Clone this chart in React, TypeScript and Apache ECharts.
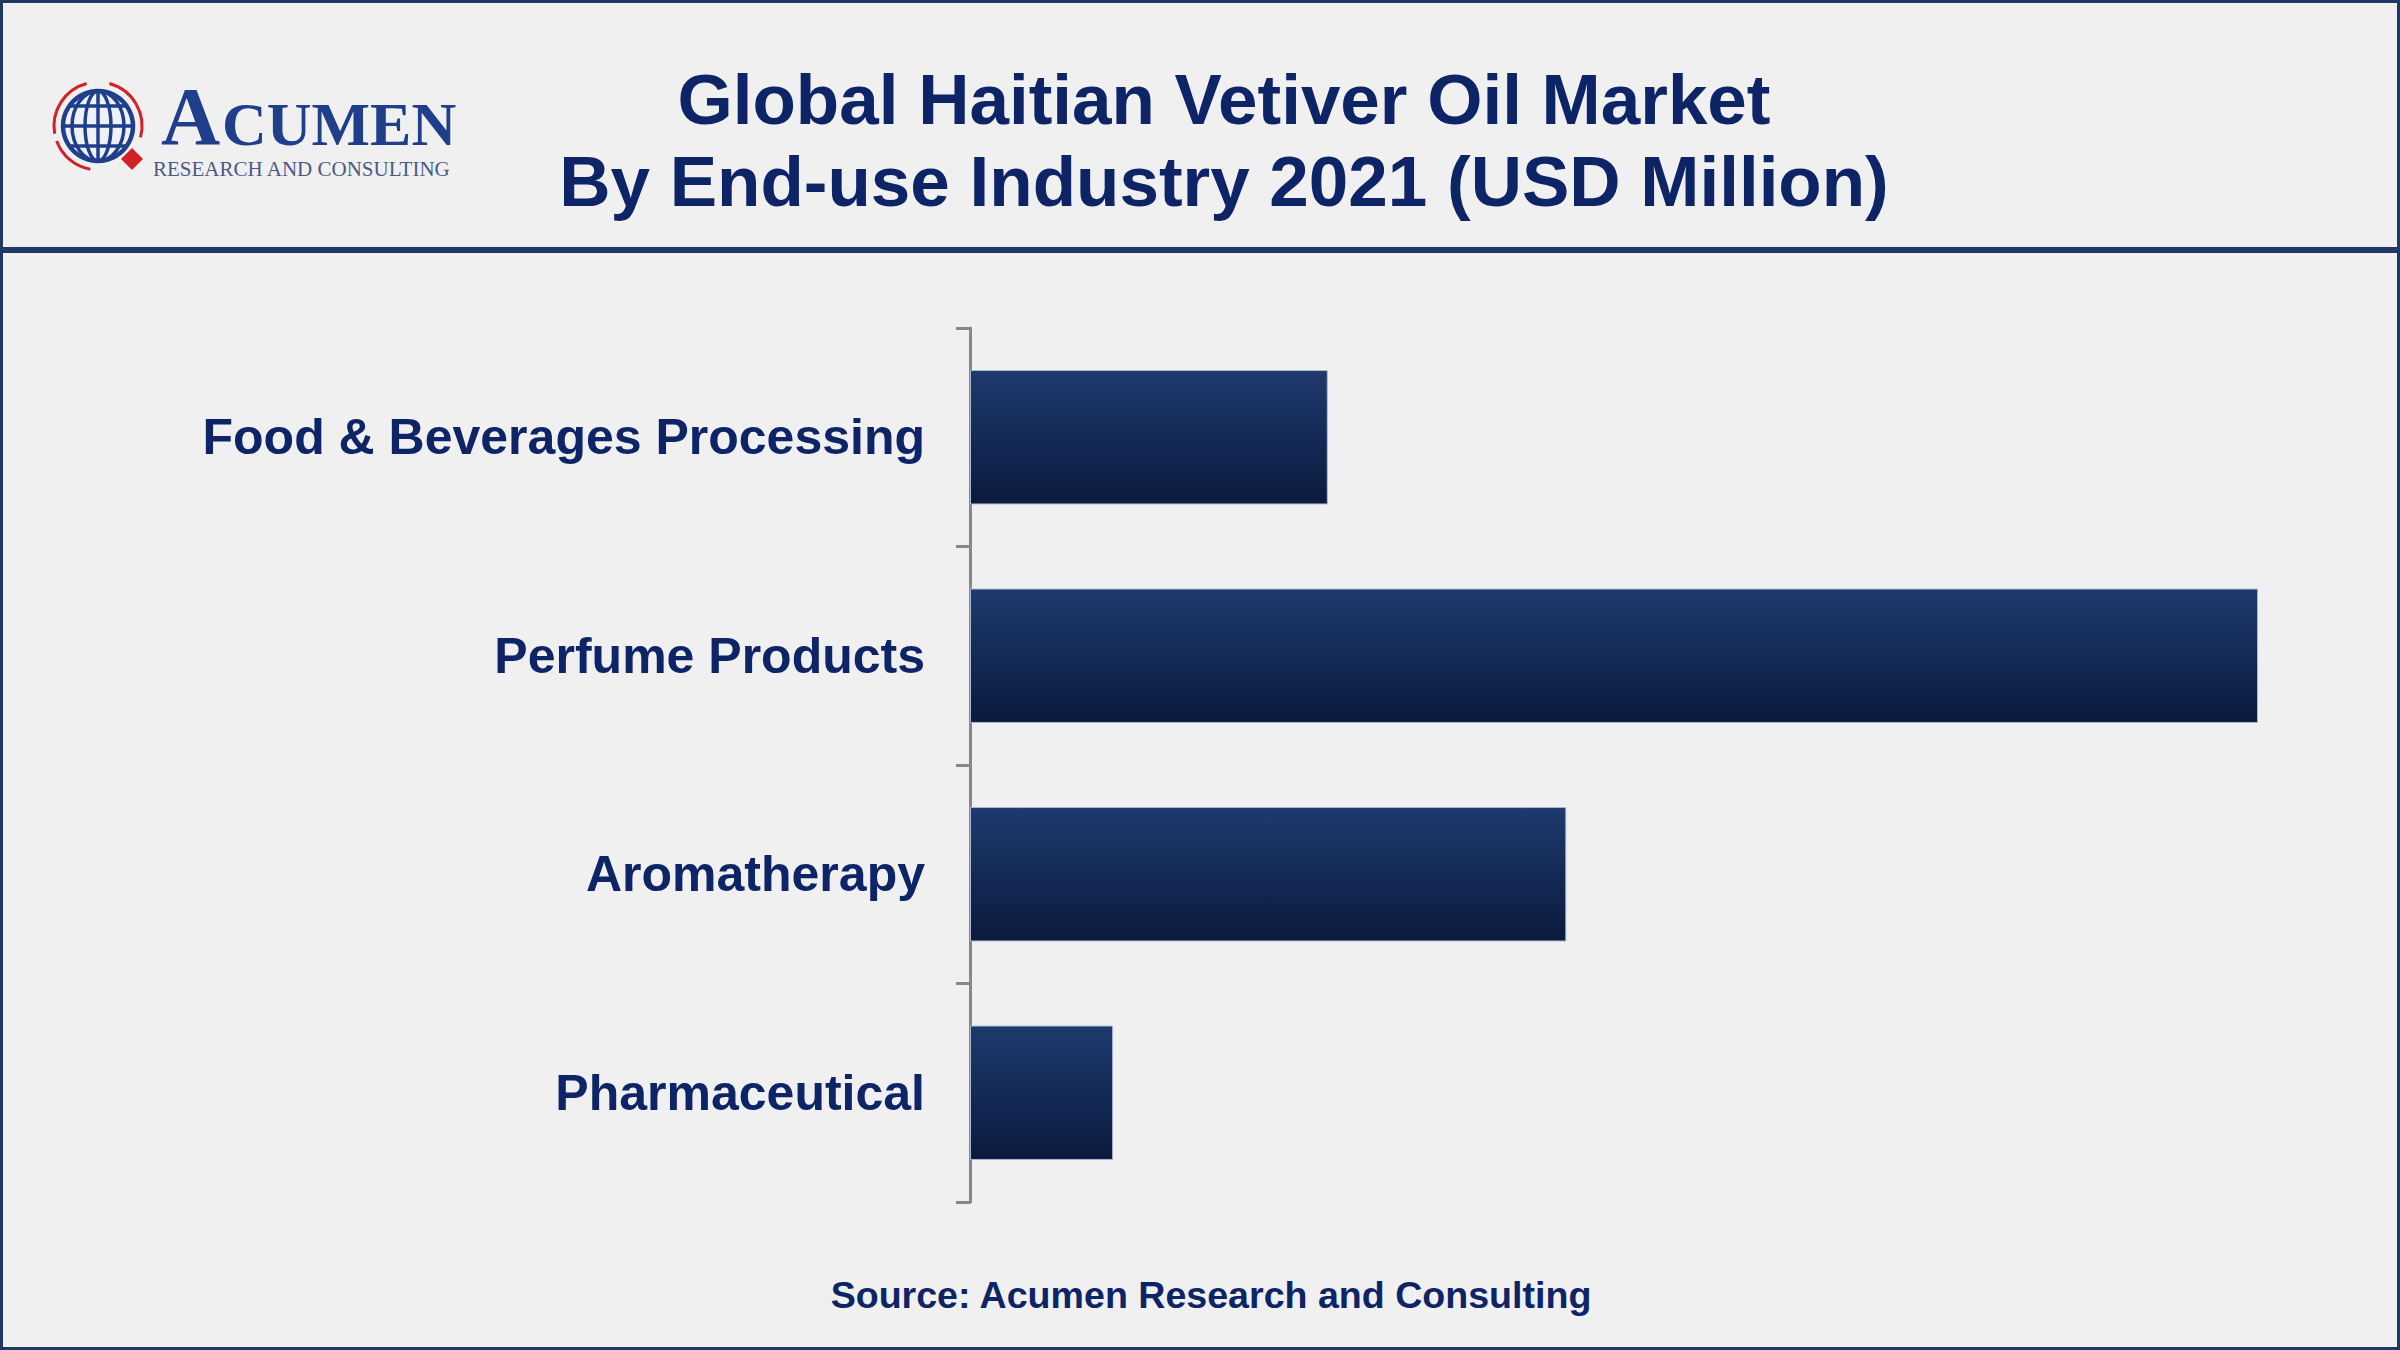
import React, { useEffect, useRef } from "react";
import * as echarts from "echarts";

const categories = ["Food & Beverages Processing", "Perfume Products", "Aromatherapy", "Pharmaceutical"];
const values = [10.5, 37.8, 17.5, 4.2];
const titleLines = ["Global Haitian Vetiver Oil Market", "By End-use Industry 2021 (USD Million)"];
const sourceText = "Source: Acumen Research and Consulting";

const NAVY = "#1f3864";
const TEXT = "#0d2466";
const LOGO = "#1f3f8a";
const RED = "#d42027";

export default function App() {
  const ref = useRef<HTMLDivElement>(null);
  useEffect(() => {
    const chart = echarts.init(ref.current!, undefined, { renderer: "svg" });
    const cx = 98, cy = 126, r = 35;
    const deg = (d: number) => (d * Math.PI) / 180;
    const serif = "'Liberation Serif', 'Times New Roman', serif";
    const globe: any[] = [
      { type: "circle", shape: { cx, cy, r }, style: { fill: "#eef1f7", stroke: LOGO, lineWidth: 4.5 } },
      { type: "ellipse", shape: { cx, cy, rx: 13, ry: r }, style: { fill: "none", stroke: LOGO, lineWidth: 3.5 } },
      { type: "ellipse", shape: { cx, cy, rx: 26, ry: r }, style: { fill: "none", stroke: LOGO, lineWidth: 3.5 } },
      { type: "line", shape: { x1: cx, y1: cy - r, x2: cx, y2: cy + r }, style: { stroke: LOGO, lineWidth: 3.5 } },
      { type: "line", shape: { x1: cx - r, y1: cy, x2: cx + r, y2: cy }, style: { stroke: LOGO, lineWidth: 3.5 } },
      { type: "line", shape: { x1: cx - 28, y1: cy - 20, x2: cx + 28, y2: cy - 20 }, style: { stroke: LOGO, lineWidth: 3.5 } },
      { type: "line", shape: { x1: cx - 28, y1: cy + 20, x2: cx + 28, y2: cy + 20 }, style: { stroke: LOGO, lineWidth: 3.5 } },
      { type: "arc", shape: { cx, cy, r: 44, startAngle: deg(170), endAngle: deg(255) }, style: { stroke: RED, lineWidth: 3, fill: "none" } },
      { type: "arc", shape: { cx, cy, r: 44, startAngle: deg(285), endAngle: deg(375) }, style: { stroke: RED, lineWidth: 3, fill: "none" } },
      { type: "arc", shape: { cx, cy, r: 44, startAngle: deg(100), endAngle: deg(160) }, style: { stroke: RED, lineWidth: 3, fill: "none" } },
      { type: "polygon", shape: { points: [[132, 148], [143, 159], [132, 170], [121, 159]] }, style: { fill: RED } },
      { type: "text", x: 161, y: 116, style: { text: "A", font: `bold 82px ${serif}`, fill: LOGO, verticalAlign: "middle", align: "left" } },
      { type: "text", x: 222, y: 124.1, style: { text: "CUMEN", font: `bold 62px ${serif}`, fill: LOGO, verticalAlign: "middle", align: "left" } },
      { type: "text", x: 153, y: 168.5, style: { text: "RESEARCH AND CONSULTING", font: `21px ${serif}`, fill: "#4a5a85", verticalAlign: "middle", align: "left" } },
    ];
    chart.setOption({
      animation: false,
      backgroundColor: "#f0f0f0",
      title: {
        text: titleLines.join("\n"),
        left: 1224,
        top: 58,
        padding: 0,
        textAlign: "center",
        textStyle: { fontFamily: "'Liberation Sans', Arial, sans-serif", fontWeight: "bold", fontSize: 71, lineHeight: 82, color: TEXT },
      },
      grid: { left: 970, top: 328, width: 1363, height: 874, containLabel: false },
      xAxis: { type: "value", min: 0, max: 40, show: false },
      yAxis: {
        type: "category",
        data: categories,
        inverse: true,
        axisLine: { show: true, lineStyle: { color: "#888888", width: 3 } },
        axisTick: { show: true, length: 14, lineStyle: { color: "#888888", width: 3 } },
        axisLabel: { margin: 45, fontFamily: "'Liberation Sans', Arial, sans-serif", fontWeight: "bold", fontSize: 50, color: TEXT },
        splitLine: { show: false },
      },
      series: [
        {
          type: "bar",
          data: values,
          barWidth: "61.5%",
          itemStyle: {
            color: new echarts.graphic.LinearGradient(0, 0, 0, 1, [
              { offset: 0, color: "#1d3a6e" },
              { offset: 1, color: "#0b1a3d" },
            ]),
            borderColor: "#aab8d0",
            borderWidth: 1,
          },
        },
      ],
      graphic: [
        { type: "rect", shape: { x: 0, y: 0, width: 2400, height: 1350 }, style: { fill: "none", stroke: NAVY, lineWidth: 6 }, z: 100 },
        { type: "rect", shape: { x: 0, y: 247, width: 2400, height: 6 }, style: { fill: NAVY }, z: 100 },
        ...globe,
        { type: "text", x: 1211, y: 1295, style: { text: sourceText, font: "bold 37.6px 'Liberation Sans', Arial, sans-serif", fill: TEXT, align: "center", verticalAlign: "middle" } },
      ],
    });
    return () => chart.dispose();
  }, []);
  return <div ref={ref} style={{ position: "absolute", left: 0, top: 0, width: 2400, height: 1350 }} />;
}
